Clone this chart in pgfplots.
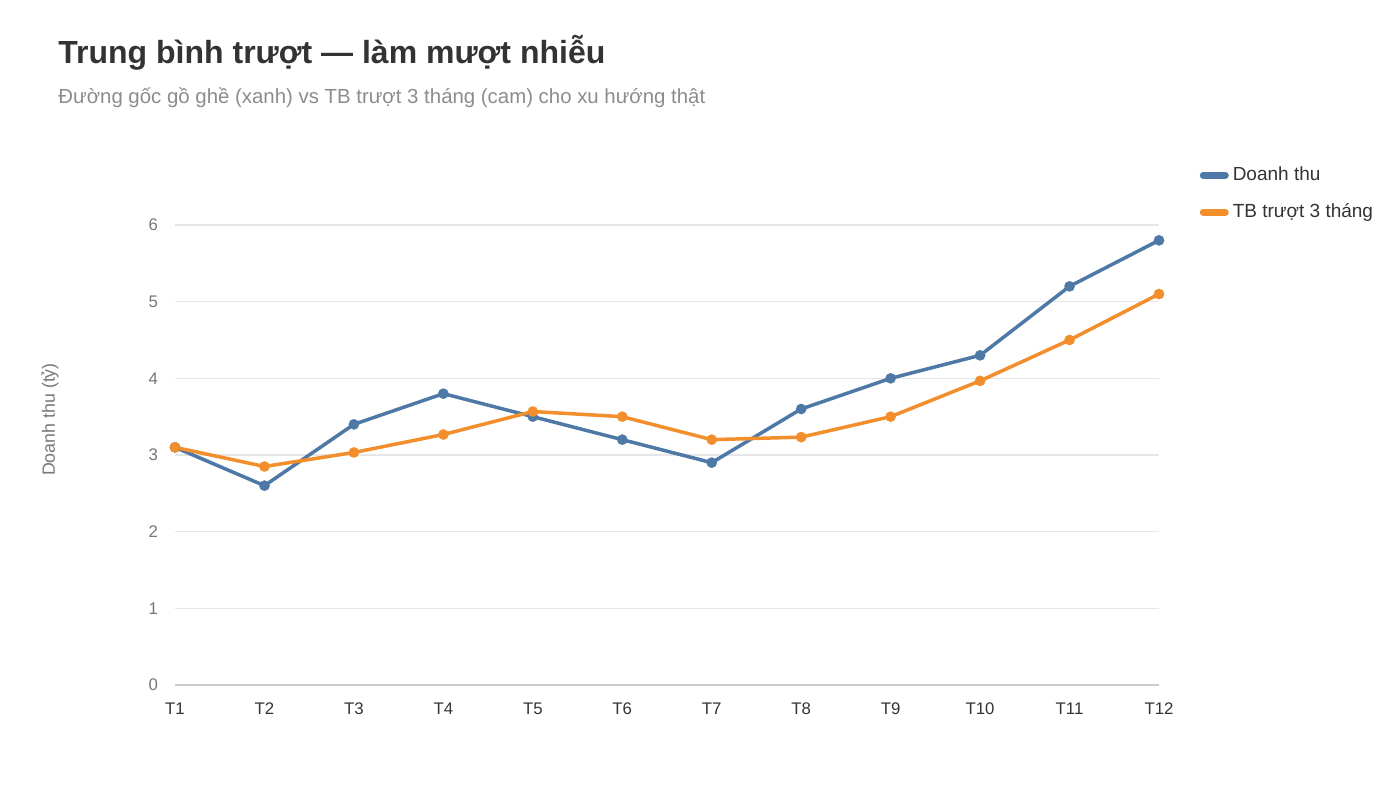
\documentclass[border=0pt]{standalone}
\usepackage{pgfplots}
\pgfplotsset{compat=1.18}
\usepackage{fontspec}
\setmainfont{Liberation Sans}
\definecolor{cblue}{HTML}{4E79A7}
\definecolor{corange}{HTML}{F28E2B}
\definecolor{ctitle}{HTML}{333333}
\definecolor{csub}{HTML}{8C8C8C}
\definecolor{ctick}{HTML}{777777}
\definecolor{cgrid}{HTML}{E6E6E6}
\definecolor{caxis}{HTML}{CCCCCC}
\begin{document}
\begin{tikzpicture}[x=1pt,y=1pt]
\useasboundingbox (0,0) rectangle (700,393.5);
\node[anchor=base west, font=\fontsize{16pt}{18pt}\selectfont\bfseries, text=ctitle, inner sep=0pt] at (29,361.5) {Trung bình trượt — làm mượt nhiễu};
\node[anchor=base west, font=\fontsize{10.2pt}{12pt}\selectfont, text=csub, inner sep=0pt] at (29,341.5) {Đường gốc gồ ghề (xanh) vs TB trượt 3 tháng (cam) cho xu hướng thật};
\begin{axis}[
  at={(87.5pt,51pt)}, anchor=south west,
  scale only axis, width=492pt, height=230pt,
  xmin=0, xmax=11, ymin=0, ymax=6,
  xtick={0,...,11},
  xticklabels={T1,T2,T3,T4,T5,T6,T7,T8,T9,T10,T11,T12},
  ytick={0,1,2,3,4,5,6},
  axis x line*=bottom, axis y line*=left,
  x axis line style={draw=caxis, line width=0.8pt, -},
  y axis line style={draw=none},
  ymajorgrids, grid style={draw=cgrid, line width=0.7pt},
  major tick length=0pt,
  tick label style={font=\fontsize{8.4pt}{10pt}\selectfont},
  xticklabel style={text=ctitle, yshift=-5.5pt},
  yticklabel style={text=ctick, xshift=-5pt},
  /pgf/number format/assume math mode=true,
  ylabel={Doanh thu (tỷ)},
  ylabel style={at={(axis description cs:-0.127,0.577)}, anchor=center, rotate=0, font=\fontsize{8.9pt}{10pt}\selectfont, text=ctick},
  clip=false,
  legend style={at={(axis description cs:1.041,1.136)}, anchor=north west, draw=none, fill=none,
    font=\fontsize{9.5pt}{11pt}\selectfont, text=ctitle, row sep=6pt, inner sep=0pt},
  legend cell align=left,
  legend image code/.code={\draw[#1, mark=none, line width=3.5pt, line cap=round] (1pt,0pt) -- (12pt,0pt);},
]
\addplot[cblue, line width=1.75pt, mark=*, mark size=2.6pt, mark options={solid, fill=cblue, draw=cblue, line width=0.1pt}]
  coordinates {(0,3.1) (1,2.6) (2,3.4) (3,3.8) (4,3.5) (5,3.2) (6,2.9) (7,3.6) (8,4.0) (9,4.3) (10,5.2) (11,5.8)};
\addlegendentry{Doanh thu}
\addplot[corange, line width=1.75pt, mark=*, mark size=2.6pt, mark options={solid, fill=corange, draw=corange, line width=0.1pt}]
  coordinates {(0,3.1) (1,2.85) (2,3.033) (3,3.267) (4,3.567) (5,3.5) (6,3.2) (7,3.233) (8,3.5) (9,3.967) (10,4.5) (11,5.1)};
\addlegendentry{TB trượt 3 tháng}
\end{axis}
\end{tikzpicture}
\end{document}
